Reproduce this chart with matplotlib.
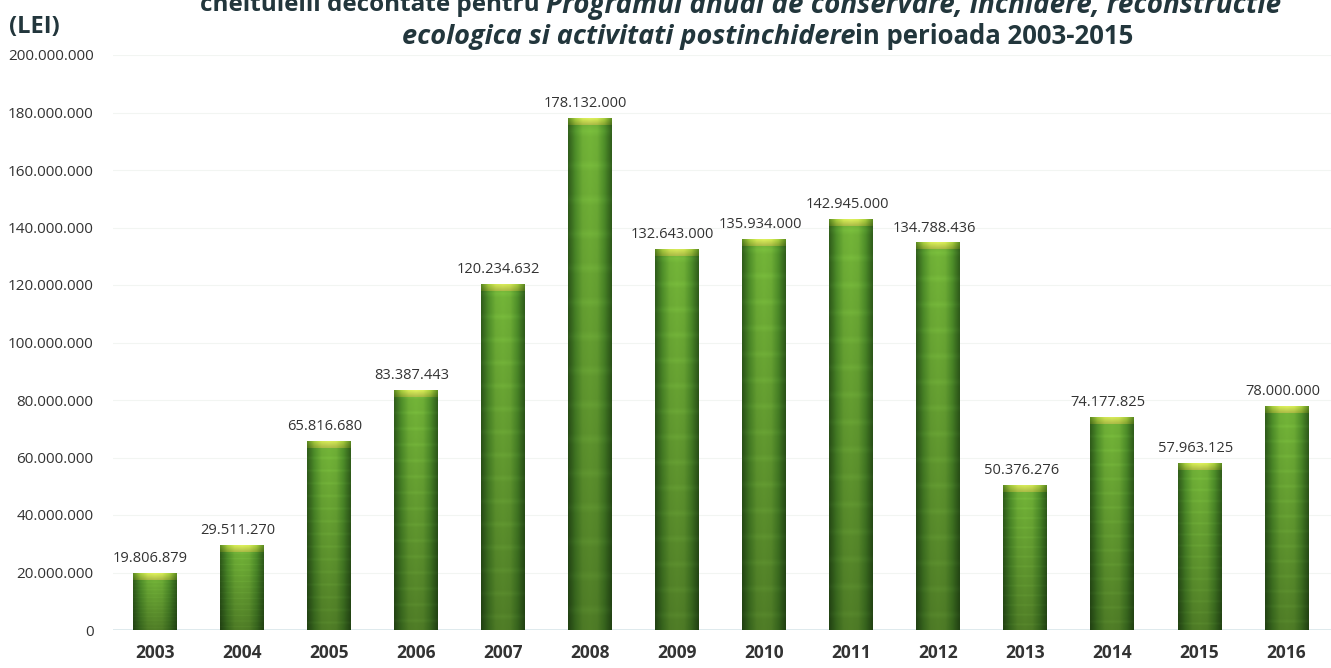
import numpy as np
import matplotlib
matplotlib.use("Agg")
import matplotlib.pyplot as plt
from matplotlib.colors import LinearSegmentedColormap

# data
years = ['2003', '2004', '2005', '2006', '2007', '2008', '2009',
         '2010', '2011', '2012', '2013', '2014', '2015', '2016']
values = [19806879, 29511270, 65816680, 83387443, 120234632, 178132000, 132643000,
          135934000, 142945000, 134788436, 50376276, 74177825, 57963125, 78000000]
labels = ['19.806.879', '29.511.270', '65.816.680', '83.387.443', '120.234.632',
          '178.132.000', '132.643.000', '135.934.000', '142.945.000', '134.788.436',
          '50.376.276', '74.177.825', '57.963.125', '78.000.000']
yticks = [0, 20e6, 40e6, 60e6, 80e6, 100e6, 120e6, 140e6, 160e6, 180e6, 200e6]
ytick_labels = ['0', '20.000.000', '40.000.000', '60.000.000', '80.000.000', '100.000.000',
                '120.000.000', '140.000.000', '160.000.000', '180.000.000', '200.000.000']

plt.rcParams['font.family'] = ['Open Sans', 'DejaVu Sans']
txt = '#333333'
title_col = '#22363c'

fig = plt.figure(figsize=(13.31, 6.68), dpi=100)
ax = fig.add_axes([113 / 1331, 38 / 668, 1 - 113 / 1331, 575 / 668])

x = np.arange(len(years))
width = 0.505
bars = ax.bar(x, values, width=width, color='#4f8a2a', edgecolor='none', zorder=2)

# shading for the bars: dark edges, lighter middle, lighter toward the top
gcmap = LinearSegmentedColormap.from_list(
    'g', ['#2e5a1a', '#4c8a28', '#6aa834', '#6fae36', '#6aa834', '#4c8a28', '#2e5a1a'])
hor = np.linspace(0, 1, 60)
rows = 90
img = np.zeros((rows, len(hor), 3))
for r in range(rows):
    shade = 0.72 + 0.33 * (1 - r / rows)  # r=0 is top
    img[r] = np.clip(gcmap(hor)[:, :3] * shade, 0, 1)
    # faint scan stripes
    if r % 6 == 2:
        img[r] = np.clip(img[r] * 1.04 + 0.01, 0, 1)

bevel_cmap = LinearSegmentedColormap.from_list(
    'b', ['#5f8e22', '#a9cf3e', '#d4ea55', '#dcef5c', '#d4ea55', '#a9cf3e', '#5f8e22'])
bevel = np.zeros((6, len(hor), 3))
for r in range(6):
    bevel[r] = bevel_cmap(hor)[:, :3] * (1 - 0.04 * r)
px = 575 / 200e6  # pixels per unit
bev_h = 7 / px

for b, v in zip(bars, values):
    x0 = b.get_x()
    x1 = x0 + b.get_width()
    im = ax.imshow(img, extent=(x0, x1, 0, v), aspect='auto', zorder=3, interpolation='bilinear')
    im.set_clip_path(b)
    im2 = ax.imshow(bevel, extent=(x0, x1, v - bev_h, v), aspect='auto', zorder=4,
                    interpolation='bilinear')
    im2.set_clip_path(b)

for xi, v, lab in zip(x, values, labels):
    ax.annotate(lab, (xi, v), xytext=(-3, 5), textcoords='offset points',
                ha='center', va='bottom', fontsize=10.5, color=txt)

ax.set_xlim(-0.477, 13.51)
ax.set_ylim(0, 200e6)
ax.set_yticks(yticks)
ax.set_yticklabels(ytick_labels, fontsize=11, color=txt)
ax.set_xticks(x)
ax.set_xticklabels(years, fontsize=12.5, fontweight='bold', color=txt)
ax.tick_params(axis='both', length=0)
ax.tick_params(axis='y', pad=14)
ax.tick_params(axis='x', pad=10)
ax.grid(axis='y', color='#f2f5f2', linewidth=0.8, zorder=0)
for s in ax.spines.values():
    s.set_visible(False)
ax.axhline(0, color='#d8e6ea', linewidth=1.2, zorder=1)

# title, two lines with italic parts, top line cut by the image edge as in the scan
fig.text(0.007, 1 - 27 / 668, '(LEI)', fontsize=17, fontweight='bold', color=title_col,
         ha='left', va='center')
fig.text(546 / 1331, 1 - 5 / 668, 'cheltuielil decontate pentru ', fontsize=17.5,
         fontweight='bold', color=title_col, ha='right', va='center')
fig.text(546 / 1331, 1 - 5 / 668, 'Programul anual de conservare, inchidere, reconstructie',
         fontsize=20, fontweight='bold', style='italic', color=title_col,
         ha='left', va='center')
fig.text(855 / 1331, 1 - 37 / 668, 'ecologica si activitati postinchidere', fontsize=19.5,
         fontweight='bold', style='italic', color=title_col, ha='right', va='center')
fig.text(855 / 1331, 1 - 37 / 668, 'in perioada 2003-2015', fontsize=18.5,
         fontweight='bold', color=title_col, ha='left', va='center')

fig.savefig('out.png', dpi=100, facecolor='white')
